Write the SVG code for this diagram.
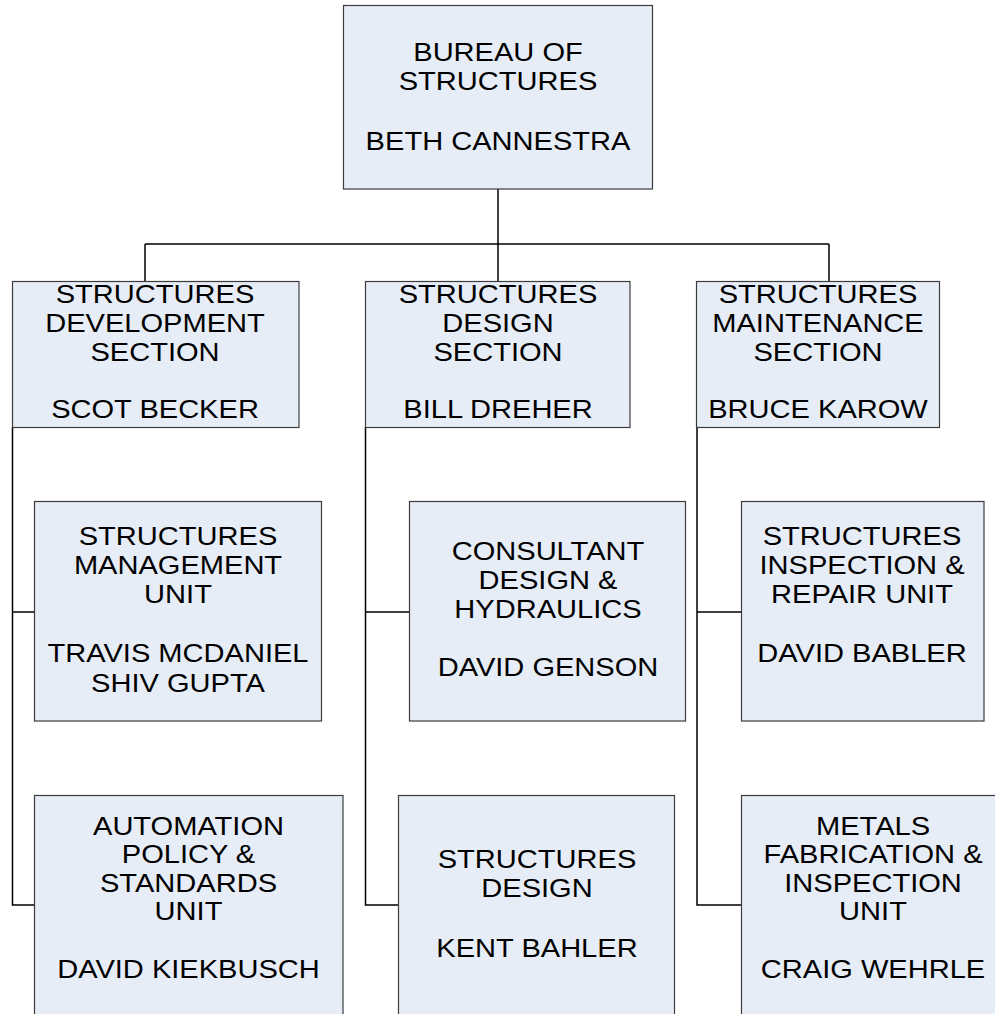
<svg xmlns="http://www.w3.org/2000/svg" width="995" height="1014" viewBox="0 0 995 1014">
<style>
.box{fill:#E7EDF7;stroke:#3c3c3c;stroke-width:1.2}
.t{font-family:"Liberation Sans",Arial,sans-serif;font-size:25.5px;fill:#000;text-anchor:middle}
.c{fill:none;stroke:#000;stroke-width:1.5}
</style>
<rect width="995" height="1014" fill="#fff"/>
<g id="connectors">
<path class="c" d="M498 189V244M145 244H829M145 244V282M498 244V282M829 244V282"/>
<path class="c" d="M12.5 427V905H34M12.5 612H34"/>
<path class="c" d="M365.5 427V905H398M365.5 612H409"/>
<path class="c" d="M697 427V905H741M697 612H741"/>
</g>
<g id="bureau">
<rect class="box" x="343.5" y="5.5" width="309" height="183.5"/>
<text class="t" transform="translate(498,0) scale(1.14,1)"><tspan x="0" y="61">BUREAU OF</tspan><tspan x="0" y="90">STRUCTURES</tspan><tspan x="0" y="150">BETH CANNESTRA</tspan></text>
</g>
<g id="development">
<rect class="box" x="12.5" y="281.5" width="286.5" height="146"/>
<text class="t" transform="translate(155,0) scale(1.14,1)"><tspan x="0" y="303">STRUCTURES</tspan><tspan x="0" y="332">DEVELOPMENT</tspan><tspan x="0" y="361">SECTION</tspan><tspan x="0" y="418">SCOT BECKER</tspan></text>
</g>
<g id="design-section">
<rect class="box" x="365.5" y="281.5" width="264.5" height="146"/>
<text class="t" transform="translate(498,0) scale(1.14,1)"><tspan x="0" y="303">STRUCTURES</tspan><tspan x="0" y="332">DESIGN</tspan><tspan x="0" y="361">SECTION</tspan><tspan x="0" y="418">BILL DREHER</tspan></text>
</g>
<g id="maintenance">
<rect class="box" x="696.5" y="281.5" width="243" height="146"/>
<text class="t" transform="translate(818,0) scale(1.14,1)"><tspan x="0" y="303">STRUCTURES</tspan><tspan x="0" y="332">MAINTENANCE</tspan><tspan x="0" y="361">SECTION</tspan><tspan x="0" y="418">BRUCE KAROW</tspan></text>
</g>
<g id="management">
<rect class="box" x="34.5" y="501.5" width="287" height="219.5"/>
<text class="t" transform="translate(178,0) scale(1.14,1)"><tspan x="0" y="545">STRUCTURES</tspan><tspan x="0" y="574">MANAGEMENT</tspan><tspan x="0" y="603">UNIT</tspan><tspan x="0" y="662">TRAVIS MCDANIEL</tspan><tspan x="0" y="692">SHIV GUPTA</tspan></text>
</g>
<g id="consultant">
<rect class="box" x="409.5" y="501.5" width="276" height="219.5"/>
<text class="t" transform="translate(548,0) scale(1.14,1)"><tspan x="0" y="560">CONSULTANT</tspan><tspan x="0" y="589">DESIGN &amp;</tspan><tspan x="0" y="618">HYDRAULICS</tspan><tspan x="0" y="676">DAVID GENSON</tspan></text>
</g>
<g id="inspection">
<rect class="box" x="741.5" y="501.5" width="242.5" height="219.5"/>
<text class="t" transform="translate(862,0) scale(1.14,1)"><tspan x="0" y="545">STRUCTURES</tspan><tspan x="0" y="574">INSPECTION &amp;</tspan><tspan x="0" y="603">REPAIR UNIT</tspan><tspan x="0" y="662">DAVID BABLER</tspan></text>
</g>
<g id="automation">
<rect class="box" x="34.5" y="795.5" width="308.5" height="230"/>
<text class="t" transform="translate(188.5,0) scale(1.14,1)"><tspan x="0" y="835">AUTOMATION</tspan><tspan x="0" y="863">POLICY &amp;</tspan><tspan x="0" y="892">STANDARDS</tspan><tspan x="0" y="920">UNIT</tspan><tspan x="0" y="978">DAVID KIEKBUSCH</tspan></text>
</g>
<g id="structures-design">
<rect class="box" x="398.5" y="795.5" width="276" height="230"/>
<text class="t" transform="translate(537,0) scale(1.14,1)"><tspan x="0" y="868">STRUCTURES</tspan><tspan x="0" y="897">DESIGN</tspan><tspan x="0" y="957">KENT BAHLER</tspan></text>
</g>
<g id="metals">
<rect class="box" x="741.5" y="795.5" width="270" height="230"/>
<text class="t" transform="translate(873,0) scale(1.14,1)"><tspan x="0" y="835">METALS</tspan><tspan x="0" y="863">FABRICATION &amp;</tspan><tspan x="0" y="892">INSPECTION</tspan><tspan x="0" y="920">UNIT</tspan><tspan x="0" y="978">CRAIG WEHRLE</tspan></text>
</g>
</svg>
